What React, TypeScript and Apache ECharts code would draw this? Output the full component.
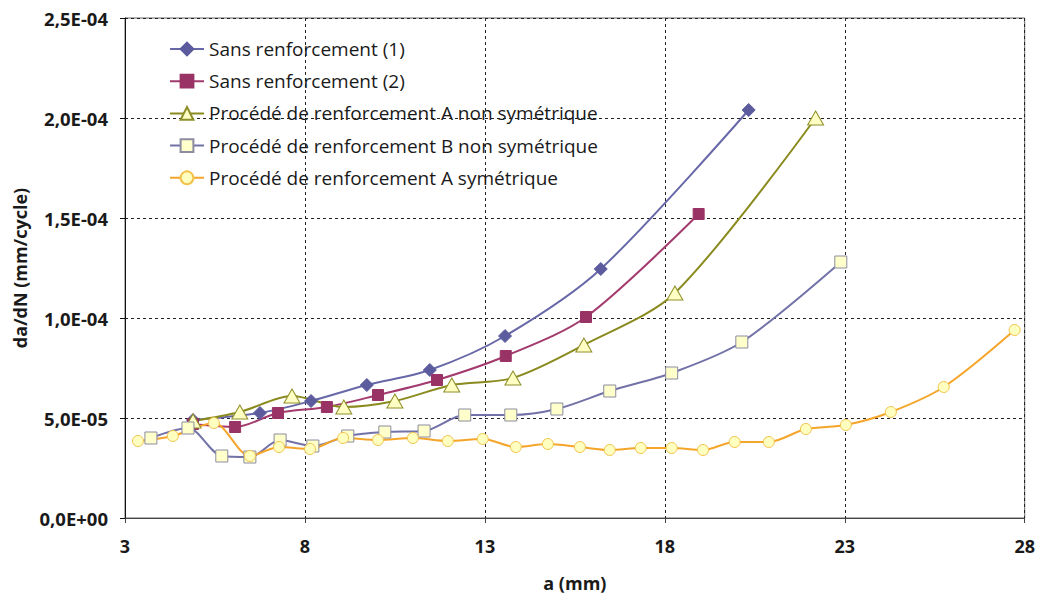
import React, { useEffect, useRef } from "react";
import * as echarts from "echarts";

const seriesNames = [
  "Sans renforcement (1)",
  "Sans renforcement (2)",
  "Procédé de renforcement A non symétrique",
  "Procédé de renforcement B non symétrique",
  "Procédé de renforcement A symétrique",
];

const s1: [number, number][] = [
  [4.89, 4.9e-5], [6.75, 5.25e-5], [8.17, 5.85e-5], [9.72, 6.65e-5],
  [11.47, 7.4e-5], [13.56, 9.1e-5], [16.22, 1.245e-4], [20.33, 2.04e-4],
];

const s2: [number, number][] = [
  [4.89, 4.7e-5], [6.06, 4.55e-5], [7.25, 5.25e-5], [8.61, 5.55e-5],
  [10.03, 6.15e-5], [11.67, 6.9e-5], [13.58, 8.1e-5], [15.81, 1.005e-4],
  [18.94, 1.52e-4],
];

const s3: [number, number][] = [
  [4.89, 4.85e-5], [6.19, 5.3e-5], [7.64, 6.1e-5], [9.08, 5.55e-5],
  [10.5, 5.85e-5], [12.08, 6.65e-5], [13.78, 7.0e-5], [15.75, 8.65e-5],
  [18.28, 1.125e-4], [22.19, 2.0e-4],
];

const s4: [number, number][] = [
  [3.72, 4.0e-5], [4.75, 4.5e-5], [5.69, 3.1e-5], [6.47, 3.05e-5],
  [7.31, 3.9e-5], [8.22, 3.6e-5], [9.19, 4.1e-5], [10.22, 4.3e-5],
  [11.31, 4.35e-5], [12.44, 5.15e-5], [13.72, 5.15e-5], [15.0, 5.45e-5],
  [16.47, 6.35e-5], [18.19, 7.25e-5], [20.14, 8.8e-5], [22.89, 1.28e-4],
];

const s5: [number, number][] = [
  [3.36, 3.85e-5], [4.33, 4.1e-5], [5.47, 4.75e-5], [6.47, 3.1e-5],
  [7.28, 3.55e-5], [8.14, 3.45e-5], [9.06, 4.0e-5], [10.03, 3.9e-5],
  [11.0, 4.0e-5], [11.97, 3.85e-5], [12.94, 3.95e-5], [13.86, 3.55e-5],
  [14.75, 3.7e-5], [15.64, 3.55e-5], [16.47, 3.4e-5], [17.33, 3.5e-5],
  [18.19, 3.5e-5], [19.06, 3.4e-5], [19.94, 3.8e-5], [20.89, 3.8e-5],
  [21.92, 4.45e-5], [23.03, 4.65e-5], [24.28, 5.3e-5], [25.75, 6.55e-5],
  [27.72, 9.4e-5],
];

const xAxisName = "a (mm)";
const yAxisName = "da/dN (mm/cycle)";

function sci(v: number): string {
  if (v === 0) return "0,0E+00";
  let e = Math.floor(Math.log10(Math.abs(v)) + 1e-9);
  let ms = (v / Math.pow(10, e)).toFixed(1);
  if (ms === "10.0") {
    e += 1;
    ms = (v / Math.pow(10, e)).toFixed(1);
  }
  const sign = e < 0 ? "-" : "+";
  const ea = Math.abs(e);
  return ms.replace(".", ",") + "E" + sign + (ea < 10 ? "0" + ea : String(ea));
}

const FONT = "'Open Sans', 'Noto Sans', sans-serif";

export default function App() {
  const ref = useRef<HTMLDivElement>(null);
  useEffect(() => {
    if (!ref.current) return;
    const chart = echarts.init(ref.current, undefined, { renderer: "svg" });
    const smooth = 0.3;
    chart.setOption({
      animation: false,
      backgroundColor: "#ffffff",
      textStyle: { fontFamily: FONT },
      grid: {
        left: 125,
        right: 13,
        top: 18,
        bottom: 80,
        show: true,
        borderColor: "#666666",
        borderWidth: 1,
        backgroundColor: "transparent",
      },
      legend: {
        orient: "vertical",
        left: 164,
        top: 34,
        itemWidth: 34,
        itemHeight: 16,
        itemGap: 12.2,
        textStyle: { fontSize: 19, lineHeight: 20, color: "#1a1a1a", fontFamily: FONT },
        data: seriesNames,
      },
      xAxis: {
        type: "value",
        min: 3,
        max: 28,
        interval: 5,
        name: xAxisName,
        nameLocation: "middle",
        nameGap: 56,
        nameTextStyle: { fontSize: 18, fontWeight: "bold", color: "#1a1a1a", fontFamily: FONT },
        axisLine: { show: true, onZero: false, lineStyle: { color: "#444444", width: 1 } },
        axisTick: { show: true, length: 5, lineStyle: { color: "#444444" } },
        axisLabel: { fontSize: 18, fontWeight: "bold", color: "#1a1a1a", margin: 19, fontFamily: FONT },
        splitLine: { show: true, lineStyle: { color: "#222222", type: [3, 3], width: 1 } },
      },
      yAxis: {
        type: "value",
        min: 0,
        max: 2.5e-4,
        interval: 5e-5,
        name: yAxisName,
        nameLocation: "middle",
        nameGap: 92,
        nameRotate: 90,
        nameTextStyle: { fontSize: 18, fontWeight: "bold", color: "#1a1a1a", fontFamily: FONT },
        axisLine: { show: true, lineStyle: { color: "#111111", width: 1 } },
        axisTick: { show: true, length: 5, lineStyle: { color: "#111111" } },
        axisLabel: {
          fontSize: 18.5,
          fontWeight: "bold",
          color: "#1a1a1a",
          margin: 17,
          fontFamily: FONT,
          formatter: (v: number) => sci(v),
        },
        splitLine: { show: true, lineStyle: { color: "#222222", type: [3, 3], width: 1 } },
      },
      series: [
        {
          name: seriesNames[0],
          type: "line",
          data: s1,
          smooth,
          symbol: "diamond",
          symbolSize: 13,
          lineStyle: { color: "#6868A8", width: 2 },
          itemStyle: { color: "#5B5B9E", borderColor: "#5B5B9E", borderWidth: 1 },
        },
        {
          name: seriesNames[1],
          type: "line",
          data: s2,
          smooth,
          symbol: "rect",
          symbolSize: 11,
          lineStyle: { color: "#A33A6E", width: 2 },
          itemStyle: { color: "#993366", borderColor: "#993366", borderWidth: 1 },
        },
        {
          name: seriesNames[2],
          type: "line",
          data: s3,
          smooth,
          symbol: "triangle",
          symbolSize: [16, 14],
          lineStyle: { color: "#8A8A1E", width: 2 },
          itemStyle: { color: "#FFFFC4", borderColor: "#8F8F2A", borderWidth: 1 },
        },
        {
          name: seriesNames[3],
          type: "line",
          data: s4,
          smooth,
          symbol: "rect",
          symbolSize: 12,
          lineStyle: { color: "#7272A8", width: 2 },
          itemStyle: { color: "#FFFFCC", borderColor: "#8C8CA0", borderWidth: 1 },
        },
        {
          name: seriesNames[4],
          type: "line",
          data: s5,
          smooth,
          symbol: "circle",
          symbolSize: 11,
          lineStyle: { color: "#F5A52A", width: 2 },
          itemStyle: { color: "#FFFFC0", borderColor: "#F2C24A", borderWidth: 1 },
        },
      ],
    });
    return () => chart.dispose();
  }, []);
  return (
    <div
      ref={ref}
      style={{ position: "fixed", left: 0, top: 0, width: 1038, height: 598, background: "#fff" }}
    />
  );
}
